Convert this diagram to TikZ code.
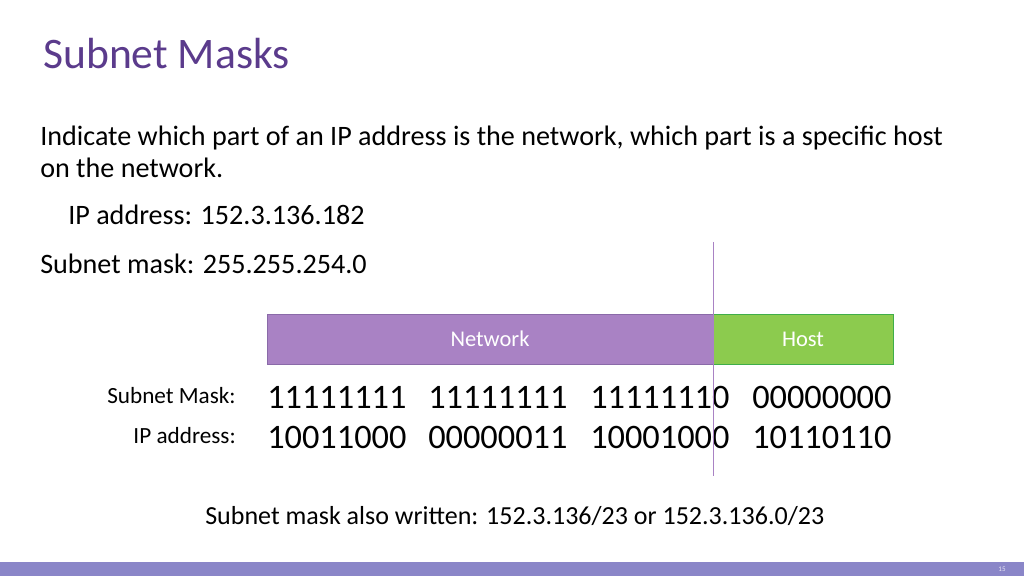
\documentclass[tikz,border=0pt]{standalone}
\usepackage{fontspec}
\setmainfont{Carlito}
\definecolor{titlecol}{HTML}{5B3B8C}
\definecolor{netcol}{HTML}{A982C4}
\definecolor{netline}{HTML}{8A6AA8}
\definecolor{hostcol}{HTML}{8CCB4E}
\definecolor{hostline}{HTML}{3FAE49}
\definecolor{barcol}{HTML}{8A86C8}
\tikzset{
  body/.style={anchor=base west,inner sep=0pt,font=\fontsize{20}{24}\selectfont},
  label/.style={anchor=base east,inner sep=0pt,font=\fontsize{16.5}{20}\selectfont},
  bits/.style={anchor=base west,inner sep=0pt,font=\fontsize{24.4}{28}\selectfont},
  seg/.style={inner sep=0pt,text=white,font=\fontsize{16}{19}\selectfont}
}
\begin{document}
\begin{tikzpicture}[x=0.025cm,y=-0.025cm]
  \useasboundingbox (0,0) rectangle (1024,576);
  % Titel
  \node[anchor=base west,inner sep=0pt,text=titlecol,font=\fontsize{31}{36}\selectfont] (title) at (43,69) {Subnet Masks};
  % Text
  \node[body] (line1) at (40,146) {Indicate which part of an IP address is the network, which part is a specific host};
  \node[body] (line2) at (40,178) {on the network.};
  \node[body] (ip) at (68,225) {IP address: 152.3.136.182};
  \node[body] (mask) at (40,274) {Subnet mask: 255.255.254.0};
  % Balken
  \draw[fill=netcol,draw=netline] (267,314) rectangle (713,364);
  \draw[fill=hostcol,draw=hostline] (713,314) rectangle (893,364);
  \node[seg] (net) at (490,339) {Network};
  \node[seg] (host) at (803,339) {Host};
  % Bits
  \node[label] (lmask) at (236,403) {Subnet Mask:};
  \node[label] (lip) at (236,443) {IP address:};
  \node[bits] (m1) at (267,408) {11111111};
  \node[bits] (m2) at (428,408) {11111111};
  \node[bits] (m3) at (590,408) {11111110};
  \node[bits] (m4) at (752,408) {00000000};
  \node[bits] (a1) at (267,448) {10011000};
  \node[bits] (a2) at (428,448) {00000011};
  \node[bits] (a3) at (590,448) {10001000};
  \node[bits] (a4) at (752,448) {10110110};
  % Trennlinie
  \draw[netcol] (713,242) -- (713,476);
  % Unten
  \node[anchor=base west,inner sep=0pt,font=\fontsize{18.5}{22}\selectfont] (also) at (205,524) {Subnet mask also written: 152.3.136/23 or 152.3.136.0/23};
  \fill[barcol] (0,562) rectangle (1024,576);
  \node[text=white!80!barcol,font=\tiny,inner sep=0pt] (page) at (1002,569) {15};
\end{tikzpicture}
\end{document}
